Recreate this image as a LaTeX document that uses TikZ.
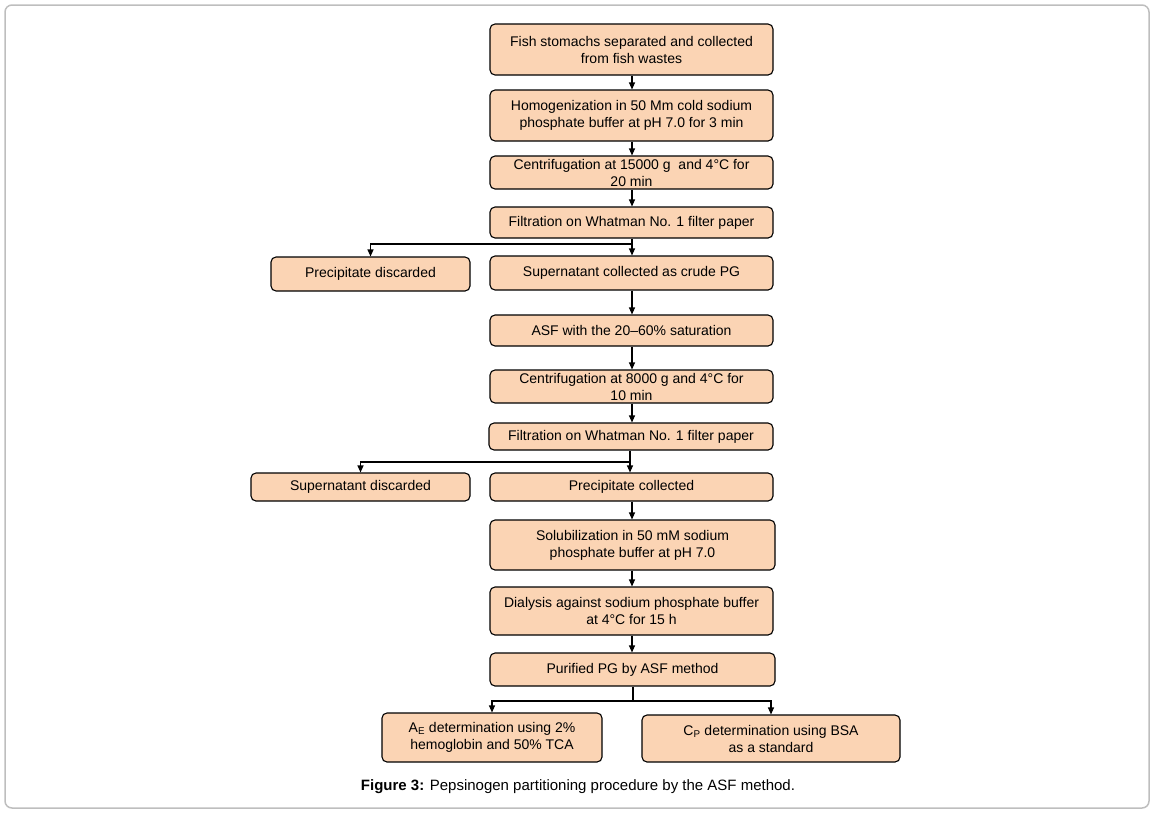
\documentclass[tikz,border=0pt]{standalone}
\usepackage{fontspec}
\setmainfont{Liberation Sans}
\usetikzlibrary{arrows.meta}
\definecolor{peach}{RGB}{251,212,180}
\definecolor{frame}{RGB}{190,190,190}
\begin{document}
\begin{tikzpicture}[x=1pt,y=-1pt,
  box/.style={draw=black, line width=1.1pt, fill=peach, rounded corners=5pt, inner sep=0pt, align=center,
    font=\fontsize{14}{17}\selectfont},
  arr/.style={draw=black, line width=1.1pt, -{Triangle[length=7pt,width=6pt]}},
  ln/.style={draw=black, line width=1.1pt}]
\useasboundingbox (0,0) rectangle (1154,815);
\draw[frame, line width=1.5pt, rounded corners=7pt] (5,5) rectangle (1149,808);

\node[box, minimum width=283pt, minimum height=51pt] (n1) at (631.5,49.5) {Fish stomachs separated and collected\\from fish wastes};
\node[box, minimum width=283pt, minimum height=51pt] (n2) at (631.5,115.5) {Homogenization in 50 Mm cold sodium\\phosphate buffer at pH 7.0 for 3 min};
\node[box, minimum width=283pt, minimum height=33pt] (n3) at (631.5,172.5) {Centrifugation at 15000 g\ \ and 4°C for\\20 min};
\node[box, minimum width=283pt, minimum height=31pt] (n4) at (631.5,222.5) {Filtration on Whatman No. 1 filter paper};
\node[box, minimum width=199pt, minimum height=34pt] (n5) at (370.5,274) {Precipitate discarded};
\node[box, minimum width=283pt, minimum height=34pt] (n6) at (631.5,273) {Supernatant collected as crude PG};
\node[box, minimum width=283pt, minimum height=31pt] (n7) at (631.5,330.5) {ASF with the 20–60\% saturation};
\node[box, minimum width=283pt, minimum height=33pt] (n8) at (631.5,386.5) {Centrifugation at 8000 g and 4°C for\\10 min};
\node[box, minimum width=284pt, minimum height=27pt] (n9) at (631,436.5) {Filtration on Whatman No. 1 filter paper};
\node[box, minimum width=219pt, minimum height=28pt] (n10) at (360.5,487) {Supernatant discarded};
\node[box, minimum width=283pt, minimum height=28pt] (n11) at (631.5,487) {Precipitate collected};
\node[box, minimum width=285pt, minimum height=50pt] (n12) at (632.5,545) {Solubilization in 50 mM sodium\\phosphate buffer at pH 7.0};
\node[box, minimum width=283pt, minimum height=48pt] (n13) at (631.5,611) {Dialysis against sodium phosphate buffer\\at 4°C for 15 h};
\node[box, minimum width=285pt, minimum height=33pt] (n14) at (632.5,669.5) {Purified PG by ASF method};
\node[box, minimum width=220pt, minimum height=49pt] (n15) at (492,737.5) {A\textsubscript{E} determination using 2\%\\hemoglobin and 50\% TCA};
\node[box, minimum width=258pt, minimum height=47pt] (n16) at (771,738.5) {C\textsubscript{P} determination using BSA\\as a standard};

\node[font=\fontsize{15}{17}\selectfont] (cap) at (578,787) {\textbf{Figure 3:} Pepsinogen partitioning procedure by the ASF method.};

\coordinate (c1) at (632,0);
\draw[arr] (n1.south -| c1) -- (n2.north -| c1);
\draw[arr] (n2.south -| c1) -- (n3.north -| c1);
\draw[arr] (n3.south -| c1) -- (n4.north -| c1);
\coordinate (b1) at (632,244);
\draw[arr] (n4.south -| c1) -- (n6.north -| c1);
\draw[arr] (b1) -| (n5.north);
\draw[arr] (n6.south -| c1) -- (n7.north -| c1);
\draw[arr] (n7.south -| c1) -- (n8.north -| c1);
\draw[arr] (n8.south -| c1) -- (n9.north -| c1);
\coordinate (c2) at (630,0);
\coordinate (b2) at (630,462);
\draw[arr] (n9.south -| c2) -- (n11.north -| c2);
\draw[arr] (b2) -| (n10.north);
\draw[arr] (n11.south -| c1) -- (n12.north -| c1);
\draw[arr] (n12.south -| c1) -- (n13.north -| c1);
\draw[arr] (n13.south -| c1) -- (n14.north -| c1);
\coordinate (b3) at (633,701);
\draw[ln] (n14.south -| b3) -- (b3);
\draw[arr] (b3) -| (n15.north);
\draw[arr] (b3) -| (n16.north);
\end{tikzpicture}
\end{document}
